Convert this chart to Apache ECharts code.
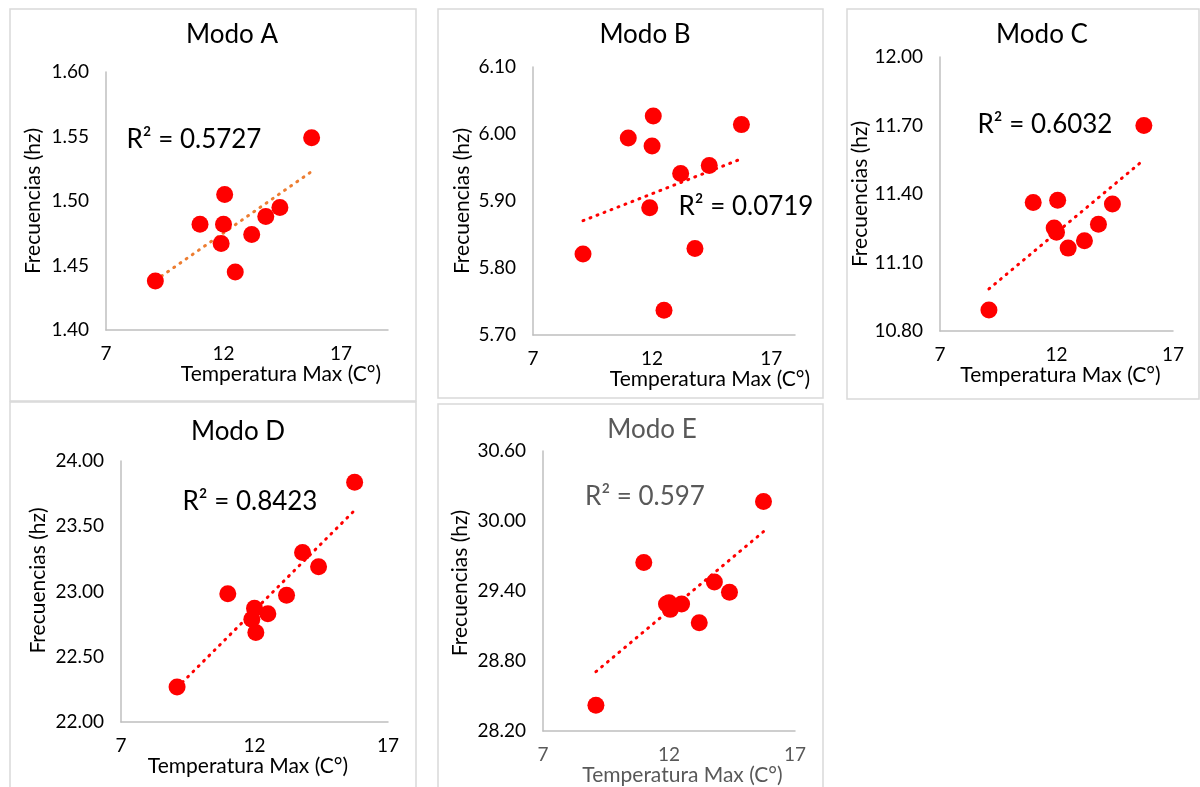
<!DOCTYPE html>
<html>
<head>
<meta charset="utf-8">
<script src="https://cdn.jsdelivr.net/npm/echarts@6/dist/echarts.min.js"></script>
<style>
  html, body { margin: 0; padding: 0; background: #fff; }
  #chart { width: 1200px; height: 787px; }
</style>
</head>
<body>
<div id="chart"></div>
<script>
// temperatura maxima (eje x), la misma para los cinco modos
var temperatura = [9.1, 11.0, 11.9, 12.0, 12.05, 12.5, 13.2, 13.8, 14.4, 15.75];

// frecuencias (hz) por modo
var modoA = [1.438, 1.482, 1.467, 1.482, 1.505, 1.445, 1.474, 1.488, 1.495, 1.549];
var modoB = [5.821, 5.994, 5.890, 5.982, 6.027, 5.737, 5.941, 5.829, 5.953, 6.014];
var modoC = [10.892, 11.363, 11.251, 11.232, 11.373, 11.163, 11.195, 11.268, 11.356, 11.700];
var modoD = [22.268, 22.982, 22.788, 22.872, 22.686, 22.829, 22.972, 23.298, 23.190, 23.837];
var modoE = [28.421, 29.645, 29.290, 29.299, 29.243, 29.290, 29.129, 29.478, 29.390, 30.167];

var titulos = ['Modo A', 'Modo B', 'Modo C', 'Modo D', 'Modo E'];
var r2Textos = ['R² = 0.5727', 'R² = 0.0719', 'R² = 0.6032', 'R² = 0.8423', 'R² = 0.597'];

var FONT = 'Lato, "Open Sans", sans-serif';

// layout de cada panel
var paneles = [
    { datos: modoA, box: [10, 9, 406, 392], grid: [106, 72, 282, 258], yMin: 1.40, yMax: 1.60, yStep: 0.05, xMax: 19,
      titulo: [227, 33], r2: [194, 140], xNamePad: 68, yNameGap: 62, yNameOff: 0, trend: '#ED7D31', color: '#000' },
    { datos: modoB, box: [438, 9, 385, 389], grid: [533, 67, 262, 268], yMin: 5.70, yMax: 6.10, yStep: 0.1, xMax: 18,
      titulo: [640, 33], r2: [746, 207], xNamePad: 92, yNameGap: 60, yNameOff: 0, trend: '#FF0000', color: '#000' },
    { datos: modoC, box: [847, 9, 352, 390], grid: [940, 57, 233, 274], yMin: 10.80, yMax: 12.00, yStep: 0.3, xMax: 17,
      titulo: [1037, 33], r2: [1045, 125], xNamePad: 8, yNameGap: 60, yNameOff: 0, trend: '#FF0000', color: '#000' },
    { datos: modoD, box: [10, 402, 406, 400], grid: [121, 461, 267, 261], yMin: 22.00, yMax: 24.00, yStep: 0.5, xMax: 17,
      titulo: [233, 430], r2: [250, 502], xNamePad: -13, yNameGap: 72, yNameOff: 22, trend: '#FF0000', color: '#000' },
    { datos: modoE, box: [438, 404, 385, 400], grid: [543, 451, 252, 282], yMin: 28.20, yMax: 30.60, yStep: 0.6, xMax: 17,
      titulo: [647, 428], r2: [645, 497], xNamePad: 27, yNameGap: 72, yNameOff: 16, trend: '#FF0000', color: '#595959' }
];

// recta de minimos cuadrados, de la temperatura minima a la maxima
function tendencia(xs, ys) {
    var n = xs.length, sx = 0, sy = 0, sxy = 0, sxx = 0;
    for (var i = 0; i < n; i++) {
        sx += xs[i]; sy += ys[i]; sxy += xs[i] * ys[i]; sxx += xs[i] * xs[i];
    }
    var m = (n * sxy - sx * sy) / (n * sxx - sx * sx);
    var b = (sy - m * sx) / n;
    var x0 = Math.min.apply(null, xs), x1 = Math.max.apply(null, xs);
    return [[x0, m * x0 + b], [x1, m * x1 + b]];
}

var grids = [], xAxes = [], yAxes = [], series = [], titles = [], graphics = [];

paneles.forEach(function (p, i) {
    graphics.push({
        type: 'rect',
        shape: { x: p.box[0], y: p.box[1], width: p.box[2], height: p.box[3] },
        style: { fill: '#fff', stroke: '#d9d9d9', lineWidth: 1.5 },
        z: -10
    });
    graphics.push({
        type: 'text',
        x: p.r2[0], y: p.r2[1],
        style: { text: r2Textos[i], font: '26px ' + FONT, fill: i === 4 ? '#595959' : '#000', align: 'center', verticalAlign: 'middle' },
        z: 10
    });
    titles.push({
        text: titulos[i],
        left: p.titulo[0], top: p.titulo[1] - 16,
        textAlign: 'center',
        textStyle: { fontFamily: FONT, fontSize: 26, fontWeight: 'normal', color: i === 4 ? '#595959' : '#000' }
    });
    grids.push({ left: p.grid[0], top: p.grid[1], width: p.grid[2], height: p.grid[3] });
    xAxes.push({
        gridIndex: i, type: 'value', min: 7, max: p.xMax, interval: 5,
        name: 'Temperatura Max (C°)', nameLocation: 'middle', nameGap: 32,
        nameTextStyle: {
            fontFamily: FONT, fontSize: 21, color: p.color,
            padding: p.xNamePad >= 0 ? [0, 0, 0, p.xNamePad] : [0, -p.xNamePad, 0, 0]
        },
        axisLine: { lineStyle: { color: '#bfbfbf', width: 1.5 } },
        axisTick: { show: false },
        splitLine: { show: false },
        axisLabel: { fontFamily: FONT, fontSize: 19, color: p.color, margin: 14, showMaxLabel: p.xMax === 17 }
    });
    yAxes.push({
        gridIndex: i, type: 'value', min: p.yMin, max: p.yMax, interval: p.yStep,
        name: 'Frecuencias (hz)', nameLocation: 'middle', nameGap: p.yNameGap,
        nameTextStyle: {
            fontFamily: FONT, fontSize: 21, color: '#000',
            padding: p.yNameOff ? [0, 0, 0, p.yNameOff] : 0
        },
        axisLine: { show: true, lineStyle: { color: '#bfbfbf', width: 1.5 } },
        axisTick: { show: false },
        splitLine: { show: false },
        axisLabel: {
            fontFamily: FONT, fontSize: 19, color: '#000', margin: 17,
            formatter: function (v) { return v.toFixed(2); }
        }
    });
    series.push({
        type: 'line',
        xAxisIndex: i, yAxisIndex: i,
        data: tendencia(temperatura, p.datos),
        showSymbol: false, silent: true,
        lineStyle: { color: p.trend, width: 3, type: [1, 6.5], cap: 'round' },
        z: 1
    });
    series.push({
        type: 'scatter',
        xAxisIndex: i, yAxisIndex: i,
        data: temperatura.map(function (t, k) { return [t, p.datos[k]]; }),
        symbolSize: 17,
        itemStyle: { color: '#FF0000', opacity: 1 },
        z: 2
    });
});

var chart = echarts.init(document.getElementById('chart'));
chart.setOption({
    backgroundColor: '#fff',
    animation: false,
    title: titles,
    grid: grids,
    xAxis: xAxes,
    yAxis: yAxes,
    series: series,
    graphic: graphics
});
</script>
</body>
</html>
